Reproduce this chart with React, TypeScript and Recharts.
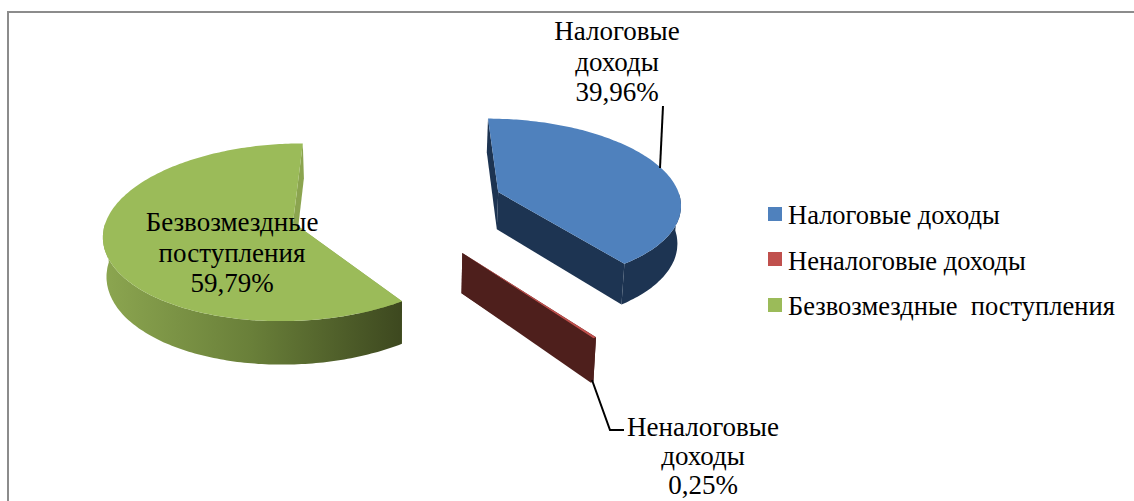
import { Legend, Pie, PieChart } from 'recharts';

const NAMES = ['Налоговые доходы', 'Неналоговые доходы', 'Безвозмездные  поступления'];
const VALUES = [39.96, 0.25, 59.79];

const COLORS = ['#4f81bd', '#c0504d', '#9bbb59'];
const SIDE_COLORS = ['#1d3452', '#4e1f1c', '#8ba44f'];
const RIM_COLORS = ['#1d3452', '#4e1f1c', 'url(#greenRim)'];
const EXPLODE = [114, 114, 102];

// projection of the tilted pie
const CX = 392;
const CY = 208;
const RADIUS = 184;
const TILT = 0.46;
const FOCAL = 1700;
const DEPTH = 38;
const TAPER = 0.00033; // lower face is a bit narrower than the top one

const FONT = '"Liberation Serif", serif';

const rows = NAMES.map((name, i) => ({
  name,
  value: VALUES[i],
  fill: COLORS[i],
  side: SIDE_COLORS[i],
  rim: RIM_COLORS[i],
  explode: EXPLODE[i],
}));

const project = (x: number, z: number, h = 0) => {
  const s = FOCAL / (FOCAL + z);
  return [CX + x * s * (1 - h * TAPER), CY - TILT * z * s + h * s];
};

const toPath = (pts: number[][]) =>
  'M' + pts.map((p) => `${p[0].toFixed(1)},${p[1].toFixed(1)}`).join('L') + 'Z';

function Slice3D(props: any) {
  const { startAngle, endAngle, midAngle, fill, side, rim, explode } = props;
  const rad = (a: number) => (a * Math.PI) / 180;
  const ox = explode * Math.cos(rad(midAngle));
  const oz = explode * Math.sin(rad(midAngle));
  const steps = Math.max(2, Math.ceil(Math.abs(endAngle - startAngle)));
  const angles: number[] = [];
  for (let i = 0; i <= steps; i++) angles.push(startAngle + ((endAngle - startAngle) * i) / steps);
  const at = (a: number, h = 0) =>
    project(ox + RADIUS * Math.cos(rad(a)), oz + RADIUS * Math.sin(rad(a)), h);
  const top = angles.map((a) => at(a));
  // only the part of the rim that faces the viewer
  const front = angles.filter((a) => Math.sin(rad(a)) <= 0);
  const rimTop = front.map((a) => at(a));
  const rimLow = front.map((a) => at(a, DEPTH)).reverse();
  const apex = project(ox, oz);
  const apexLow = project(ox, oz, DEPTH);
  return (
    <g>
      <path d={toPath([apex, at(startAngle), at(startAngle, DEPTH), apexLow])} fill={side} />
      <path d={toPath([apex, at(endAngle), at(endAngle, DEPTH), apexLow])} fill={side} />
      <path d={toPath([...rimTop, ...rimLow])} fill={rim} />
      <path d={toPath([apex, ...top])} fill={fill} />
    </g>
  );
}

// label layout: centre x, first baseline, line step, leader line
const LABEL_LAYOUT = [
  { x: 617, y: 40, step: 30.5, leader: '660,168 663,106' },
  { x: 703, y: 436, step: 29, leader: '592,380 610,430 624,430' },
  { x: 232, y: 231, step: 30.5, leader: '' },
];

function SliceLabel(props: any) {
  const { index, name, value } = props;
  const box = LABEL_LAYOUT[index];
  const lines = [...String(name).split(/\s+/), `${value.toFixed(2).replace('.', ',')}%`];
  return (
    <g>
      {box.leader && <polyline points={box.leader} fill="none" stroke="#000" strokeWidth={2} />}
      <text textAnchor="middle" fontFamily={FONT} fontSize={27} fill="#000">
        {lines.map((line, i) => (
          <tspan key={i} x={box.x} y={box.y + i * box.step}>
            {line}
          </tspan>
        ))}
      </text>
    </g>
  );
}

function LegendList() {
  return (
    <div style={{ fontFamily: FONT, fontSize: 26.5, color: '#000' }}>
      {NAMES.map((name, i) => (
        <div key={name} style={{ height: 45.5, display: 'flex', alignItems: 'center', whiteSpace: 'pre' }}>
          <span style={{ width: 14, height: 14, background: COLORS[i], marginRight: 6, flex: 'none' }} />
          <span style={{ position: 'relative', top: 2 }}>{name}</span>
        </div>
      ))}
    </div>
  );
}

export default function App() {
  return (
    <div style={{ position: 'absolute', left: 0, top: 0, width: 1134, height: 501, overflow: 'hidden', background: '#fff' }}>
      <div
        style={{
          position: 'absolute',
          left: 7,
          top: 11,
          right: 0,
          bottom: 0,
          borderLeft: '2px solid #8c8c8c',
          borderTop: '2px solid #8c8c8c',
        }}
      />
      <PieChart width={1134} height={501} margin={{ top: 0, right: 0, bottom: 0, left: 0 }} style={{ position: 'absolute' }}>
        <defs>
          <linearGradient id="greenRim" x1="0" y1="0" x2="1" y2="0">
            <stop offset="0" stopColor="#8ca650" />
            <stop offset="0.5" stopColor="#697f39" />
            <stop offset="1" stopColor="#3d481f" />
          </linearGradient>
        </defs>
        <Pie
          data={rows}
          dataKey="value"
          nameKey="name"
          cx={CX}
          cy={CY}
          innerRadius={0}
          outerRadius={RADIUS}
          startAngle={90}
          endAngle={-270}
          stroke="none"
          shape={Slice3D}
          label={SliceLabel}
          labelLine={false}
          isAnimationActive={false}
        />
        <Legend
          layout="vertical"
          align="left"
          verticalAlign="top"
          content={LegendList}
          wrapperStyle={{ left: 768, top: 191, width: 366 }}
        />
      </PieChart>
    </div>
  );
}
